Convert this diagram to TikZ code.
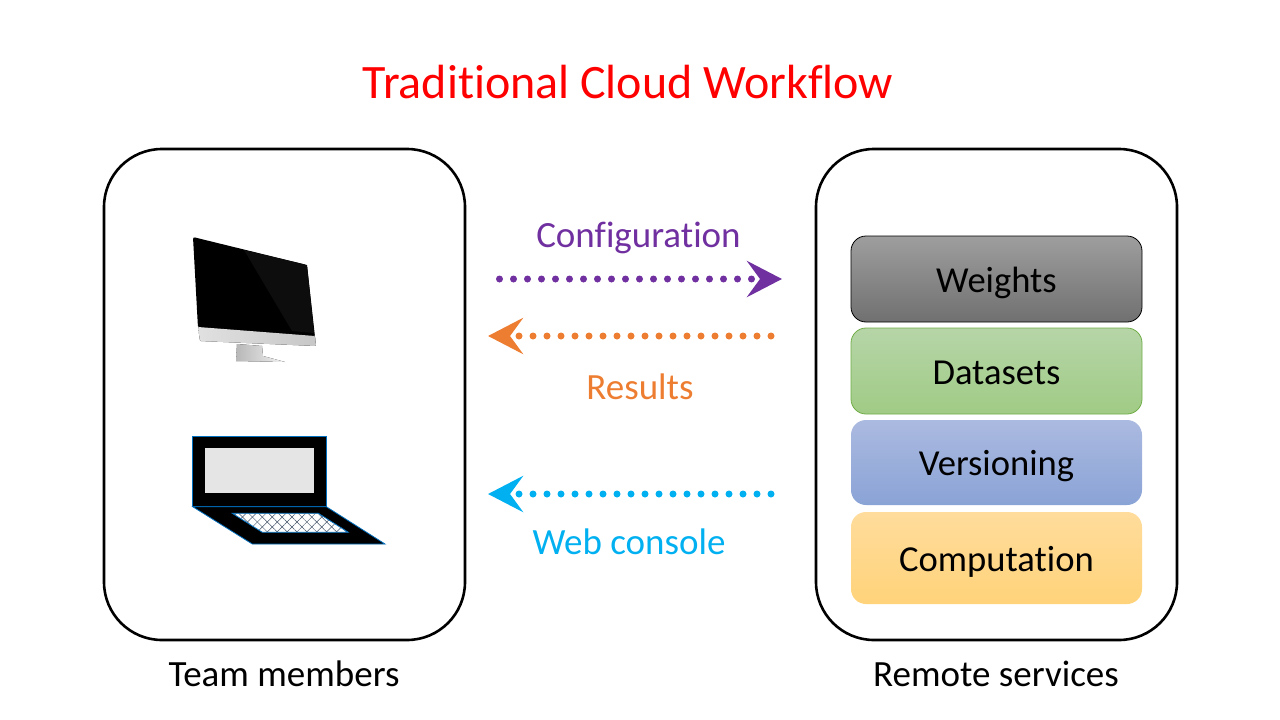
\documentclass[tikz,border=0pt]{standalone}
\usepackage{fontspec}
\setmainfont[Ligatures=NoCommon]{Carlito}
\usetikzlibrary{arrows.meta}
\usetikzlibrary{patterns.meta}
\definecolor{cfgpurple}{HTML}{7030A0}
\definecolor{resorange}{HTML}{ED7D31}
\definecolor{webcyan}{HTML}{00B0F0}
\definecolor{lapblue}{HTML}{0070C0}
\definecolor{gridgreen}{HTML}{70AD47}
\definecolor{greentop}{HTML}{B6D5A8}
\definecolor{greenbot}{HTML}{A0CB85}
\definecolor{bluetop}{HTML}{ABBAE0}
\definecolor{bluebot}{HTML}{8AA3D6}
\definecolor{yellowtop}{HTML}{FFDC9C}
\definecolor{yellowbot}{HTML}{FFD37A}
\definecolor{hatchgrey}{HTML}{44546A}
\tikzset{
    panel/.style={draw=black, line width=2.6pt, rounded corners=58pt, minimum width=361pt, minimum height=491pt, inner sep=0pt},
    service/.style={rounded corners=15pt, minimum width=291pt, minimum height=#1, inner sep=0pt, font=\fontsize{36.6}{36.6}\selectfont, text height=26pt, text depth=0pt},
    caption/.style={font=\fontsize{37}{37}\selectfont, anchor=base},
    flow/.style={line width=7pt, line cap=round, dash pattern=on 0pt off 14pt, -{Stealth[length=35pt,width=36pt,inset=13pt,line cap=butt]}},
    hatch/.style={pattern={Lines[angle=#1,distance=7pt,line width=0.5pt]}, pattern color=hatchgrey},
}
\begin{document}
\begin{tikzpicture}[x=1pt,y=-1pt]
    \useasboundingbox (0,0) rectangle (1280,720);

    % Title
    \node[red, anchor=base, font=\fontsize{48}{48}\selectfont] (title) at (628,98.5) {Traditional Cloud Workflow};

    % Panels
    \node[panel] (team) at (284.5,394.5) {};
    \node[panel] (remote) at (996.5,394.5) {};
    \node[caption] (teamlabel) at (284,686) {Team members};
    \node[caption] (remotelabel) at (996,686) {Remote services};

    % Services
    \node[service=86pt, draw=black, line width=0.8pt, top color=black!38, bottom color=black!56] (weights) at (996.5,279) {Weights};
    \node[service=86pt, draw=gridgreen, line width=0.8pt, top color=greentop, bottom color=greenbot] (datasets) at (996.5,371) {Datasets};
    \node[service=85pt, top color=bluetop, bottom color=bluebot] (versioning) at (996.5,462.5) {Versioning};
    \node[service=92pt, top color=yellowtop, bottom color=yellowbot] (computation) at (996.5,558) {Computation};

    % Monitor
    \fill[black, rounded corners=2pt] (193,237) -- (307,265) -- (315,337) -- (198,328) -- cycle;
    \fill[black!95] (244,250) -- (307,265) -- (314,333) -- (292,331) -- cycle;
    \fill[left color=black!12, right color=black!22, rounded corners=1pt] (198,327) -- (315,336) -- (316,346) -- (200,341) -- cycle;
    \fill[left color=black!28, right color=black!5] (237,344) -- (262,346) -- (263,356) -- (285,362) -- (236,361) -- cycle;

    % Laptop
    \draw[lapblue, fill=black, line width=0.8pt] (192.7,436.7) rectangle (326.3,506.7);
    \fill[black!10] (205,448) rectangle (314,493);
    \draw[lapblue, fill=black, line width=0.8pt] (192.7,506.7) -- (326.3,506.7) -- (385,544) -- (252.3,544) -- cycle;
    \fill[white] (232.3,513.3) -- (318.3,513.3) -- (348.3,532.3) -- (262.3,532.3) -- cycle;
    \fill[hatch=45] (232.3,513.3) -- (318.3,513.3) -- (348.3,532.3) -- (262.3,532.3) -- cycle;
    \fill[hatch=-45] (232.3,513.3) -- (318.3,513.3) -- (348.3,532.3) -- (262.3,532.3) -- cycle;
    \draw[lapblue, line width=0.8pt] (232.3,513.3) -- (318.3,513.3) -- (348.3,532.3) -- (262.3,532.3) -- cycle;

    % Arrows
    \coordinate (cfgstart) at (499.5,279);
    \coordinate (cfgend) at (782,279);
    \coordinate (resstart) at (771,336);
    \coordinate (resend) at (488,336);
    \coordinate (webstart) at (771,494);
    \coordinate (webend) at (488,494);
    \draw[flow, cfgpurple] (cfgstart) -- (cfgend);
    \draw[flow, resorange] (resstart) -- (resend);
    \draw[flow, webcyan] (webstart) -- (webend);
    \node[caption, cfgpurple] (cfglabel) at (638.5,247) {Configuration};
    \node[caption, resorange] (reslabel) at (640,399) {Results};
    \node[caption, webcyan] (weblabel) at (629,554) {Web console};
\end{tikzpicture}
\end{document}
